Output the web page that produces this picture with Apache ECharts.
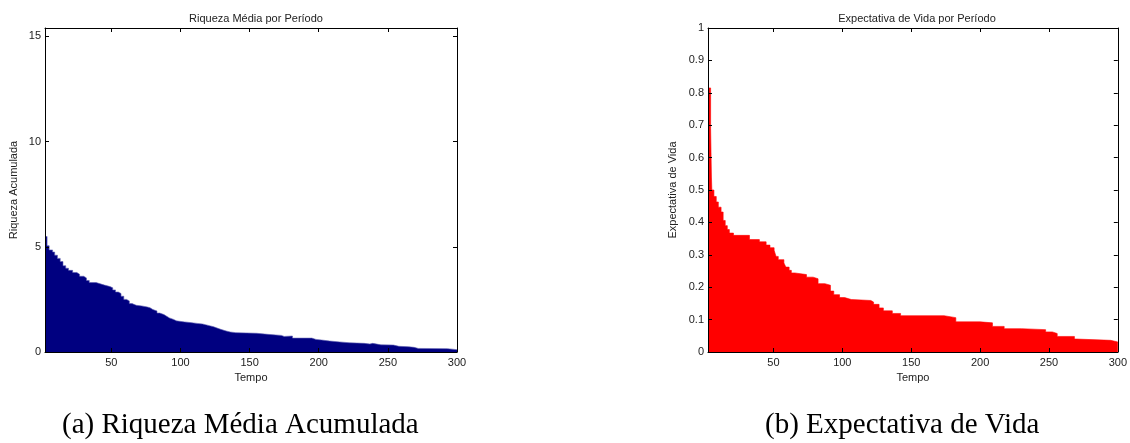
<!DOCTYPE html>
<html>
<head>
<meta charset="utf-8">
<script src="https://cdn.jsdelivr.net/npm/echarts@6/dist/echarts.min.js"></script>
<style>
  html, body { margin: 0; padding: 0; background: #fff; }
  #chart { width: 1130px; height: 443px; }
</style>
</head>
<body>
<div id="chart"></div>
<script>
// Riqueza média: [início do degrau, valor]
const wealthT = [2, 3.5, 5, 7.5, 9, 11, 13, 15, 17, 19, 22, 25, 27, 30, 32, 34, 39, 42, 45, 49,
  51, 53, 55, 57, 59, 61, 63, 65, 68, 72, 76, 78, 80, 83, 85, 88, 90, 92, 95, 97,
  103, 107, 112, 116, 118, 121, 124, 126, 129, 133, 136, 140, 155, 163, 173, 175, 181, 195, 198, 202,
  208, 215, 222, 233, 237, 239, 245, 254, 258, 265, 269, 272, 293, 300];
const wealthV = [5.49, 5.05, 4.85, 4.75, 4.6, 4.45, 4.3, 4.1, 3.98, 3.88, 3.78, 3.7, 3.6, 3.52, 3.4, 3.3, 3.24, 3.18, 3.11, 3.05,
  2.95, 2.85, 2.78, 2.65, 2.5, 2.43, 2.3, 2.22, 2.19, 2.14, 2.1, 2.02, 1.95, 1.85, 1.78, 1.7, 1.62, 1.55, 1.48, 1.43,
  1.4, 1.36, 1.33, 1.3, 1.25, 1.2, 1.15, 1.08, 1.0, 0.95, 0.92, 0.89, 0.84, 0.79, 0.74, 0.76, 0.66, 0.6, 0.57, 0.52,
  0.48, 0.44, 0.41, 0.38, 0.41, 0.34, 0.33, 0.27, 0.25, 0.22, 0.17, 0.16, 0.11, 0.11];

// Expectativa de vida: [início do degrau, valor]
const lifeT = [2.5, 4.4, 5, 5.3, 6.8, 8.5, 10, 12, 13.5, 15, 16.5, 18, 21, 32.6, 39.8, 44.7, 47.5, 50.5, 51.9, 53.5,
  57.6, 59, 61.4, 63, 65.5, 74, 78.8, 82.4, 87.3, 91.4, 93.8, 98, 101.7, 106.5, 120.7, 122.7, 126.7, 129.8, 136.3, 142.3,
  173.9, 182.4, 200, 209, 217.5, 230, 247.6, 252.5, 256, 268.5, 270, 294.7, 300];
const lifeV = [0.815, 0.69, 0.54, 0.5, 0.48, 0.463, 0.447, 0.432, 0.406, 0.39, 0.378, 0.367, 0.36, 0.347, 0.34, 0.33, 0.322, 0.314, 0.295, 0.285,
  0.275, 0.262, 0.252, 0.244, 0.239, 0.231, 0.226, 0.211, 0.206, 0.188, 0.177, 0.168, 0.162, 0.159, 0.154, 0.147, 0.136, 0.127, 0.119, 0.112,
  0.106, 0.093, 0.09, 0.079, 0.072, 0.069, 0.062, 0.057, 0.048, 0.04, 0.036, 0.031, 0.031];

const xTicks = [50, 100, 150, 200, 250, 300];
const wealthYTicks = [0, 5, 10, 15];
const lifeYTicks = [0, 0.1, 0.2, 0.3, 0.4, 0.5, 0.6, 0.7, 0.8, 0.9, 1];

const SANS = '"Liberation Sans", Arial, sans-serif';
const INK = '#222';

function pairs(xs, ys) {
  return xs.map((x, i) => [x, ys[i]]);
}

// eixo com ticks internos, estilo MATLAB (caixa fechada)
function xAxes(grid, min, name) {
  const base = {
    gridIndex: grid, type: 'value', min: min, max: 300, z: 10,
    axisLine: { show: true, onZero: false, lineStyle: { color: '#000', width: 1 } },
    axisTick: { show: true, inside: true, length: 4, customValues: xTicks, lineStyle: { color: '#000' } },
    splitLine: { show: false }
  };
  return [
    Object.assign({}, base, {
      position: 'bottom',
      name: name, nameLocation: 'middle', nameGap: 20,
      nameTextStyle: { fontFamily: SANS, fontSize: 11, color: INK },
      axisLabel: { customValues: xTicks, margin: 5, fontFamily: SANS, fontSize: 11, color: INK }
    }),
    Object.assign({}, base, { position: 'top', axisLabel: { show: false } })
  ];
}

function yAxes(grid, max, ticks, name, gap) {
  const base = {
    gridIndex: grid, type: 'value', min: 0, max: max, z: 10,
    axisLine: { show: true, onZero: false, lineStyle: { color: '#000', width: 1 } },
    axisTick: { show: true, inside: true, length: 4, customValues: ticks, lineStyle: { color: '#000' } },
    splitLine: { show: false }
  };
  return [
    Object.assign({}, base, {
      position: 'left',
      name: name, nameLocation: 'middle', nameGap: gap,
      nameTextStyle: { fontFamily: SANS, fontSize: 11, color: INK },
      axisLabel: { customValues: ticks, margin: 4, fontFamily: SANS, fontSize: 11, color: INK }
    }),
    Object.assign({}, base, { position: 'right', axisLabel: { show: false } })
  ];
}

const chart = echarts.init(document.getElementById('chart'), null, { renderer: 'canvas' });

chart.setOption({
  animation: false,
  backgroundColor: '#fff',
  title: [
    { text: 'Riqueza Média por Período', left: 251, top: 8, textAlign: 'center',
      textStyle: { fontFamily: SANS, fontSize: 11, fontWeight: 'normal', color: INK } },
    { text: 'Expectativa de Vida por Período', left: 912, top: 8, textAlign: 'center',
      textStyle: { fontFamily: SANS, fontSize: 11, fontWeight: 'normal', color: INK } }
  ],
  grid: [
    { left: 45, top: 28, width: 412, height: 324 },
    { left: 708, top: 28, width: 411, height: 324 }
  ],
  xAxis: xAxes(0, 2, 'Tempo').concat(xAxes(1, 2.5, 'Tempo')),
  yAxis: yAxes(0, 15.4, wealthYTicks, 'Riqueza Acumulada', 26)
    .concat(yAxes(1, 1, lifeYTicks, 'Expectativa de Vida', 30)),
  series: [
    {
      type: 'line', xAxisIndex: 0, yAxisIndex: 0, step: 'end', symbol: 'none',
      data: pairs(wealthT, wealthV),
      lineStyle: { color: '#5a5ab0', width: 0.6 },
      areaStyle: { color: '#000080', opacity: 1 }
    },
    {
      type: 'line', xAxisIndex: 2, yAxisIndex: 2, step: 'end', symbol: 'none',
      data: pairs(lifeT, lifeV),
      lineStyle: { color: '#ff0000', width: 0.6 },
      areaStyle: { color: '#ff0000', opacity: 1 }
    }
  ],
  graphic: [
    { type: 'text', left: 62, top: 411,
      style: { text: '(a) Riqueza Média Acumulada', font: '29px "Liberation Serif", "Times New Roman", serif', fill: '#000' } },
    { type: 'text', left: 765, top: 411,
      style: { text: '(b) Expectativa de Vida', font: '29px "Liberation Serif", "Times New Roman", serif', fill: '#000' } }
  ]
});
</script>
</body>
</html>
